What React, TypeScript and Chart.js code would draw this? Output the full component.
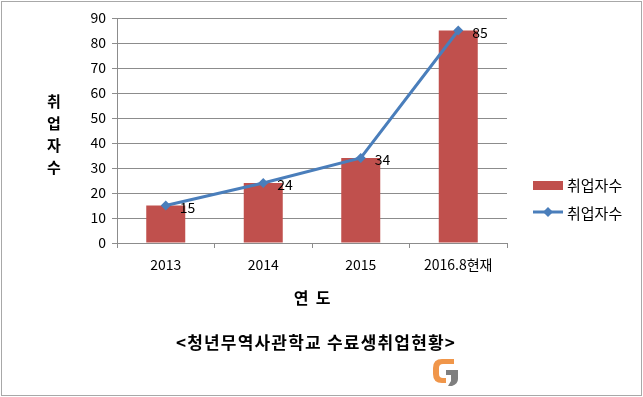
import React, { useEffect, useRef } from "react";
import { Chart, registerables } from "chart.js";

Chart.register(...registerables);

const categories = ["2013", "2014", "2015", "2016.8현재"];
const barValues = [15, 24, 34, 85];
const lineValues = [15, 24, 34, 85];
const seriesName = "취업자수";
const yTitleChars = ["취", "업", "자", "수"];
const xTitle = "연  도";
const subtitle = "<청년무역사관학교 수료생취업현황>";

const FONT = "'Noto Sans CJK KR', 'Malgun Gothic', sans-serif";
const BAR_COLOR = "#C0504D";
const LINE_COLOR = "#4A7EBB";

const decorPlugin = {
  id: "decor",
  afterDraw(chart: any) {
    const ctx = chart.ctx as CanvasRenderingContext2D;
    ctx.save();
    // border
    ctx.strokeStyle = "#a8a8a8";
    ctx.lineWidth = 1;
    ctx.strokeRect(1.5, 1.5, 640, 394);

    // data labels
    const meta = chart.getDatasetMeta(1);
    ctx.fillStyle = "#000";
    ctx.font = `14px ${FONT}`;
    ctx.textAlign = "left";
    ctx.textBaseline = "middle";
    meta.data.forEach((pt: any, i: number) => {
      ctx.fillText(String(lineValues[i]), pt.x + 14, pt.y + 2);
    });

    // y title
    ctx.font = `bold 15px ${FONT}`;
    ctx.textAlign = "center";
    yTitleChars.forEach((c, i) => {
      ctx.fillText(c, 54, 101 + i * 22);
    });

    // x title
    ctx.font = `bold 16px ${FONT}`;
    ctx.fillText(xTitle, 312, 298);

    // subtitle
    ctx.font = `bold 17px ${FONT}`;
    (ctx as any).letterSpacing = "1.2px";
    ctx.fillText(subtitle, 316, 343);
    (ctx as any).letterSpacing = "0px";

    // legend
    ctx.font = `15px ${FONT}`;
    ctx.textAlign = "left";
    ctx.fillStyle = BAR_COLOR;
    ctx.fillRect(533, 181, 30, 9);
    ctx.fillStyle = "#000";
    ctx.fillText(seriesName, 567, 185);
    ctx.strokeStyle = LINE_COLOR;
    ctx.lineWidth = 3;
    ctx.beginPath();
    ctx.moveTo(533, 212);
    ctx.lineTo(563, 212);
    ctx.stroke();
    ctx.fillStyle = LINE_COLOR;
    ctx.beginPath();
    ctx.moveTo(548, 207);
    ctx.lineTo(553, 212);
    ctx.lineTo(548, 217);
    ctx.lineTo(543, 212);
    ctx.closePath();
    ctx.fill();
    ctx.fillStyle = "#000";
    ctx.fillText(seriesName, 567, 213);

    // G logo
    ctx.fillStyle = "#F0964A";
    ctx.beginPath();
    ctx.moveTo(454, 359);
    ctx.lineTo(442, 359);
    ctx.quadraticCurveTo(433, 359, 433, 368);
    ctx.lineTo(433, 374);
    ctx.quadraticCurveTo(433, 383, 442, 383);
    ctx.lineTo(446, 383);
    ctx.lineTo(446, 378);
    ctx.lineTo(443, 378);
    ctx.quadraticCurveTo(439, 378, 439, 374);
    ctx.lineTo(439, 368);
    ctx.quadraticCurveTo(439, 364, 443, 364);
    ctx.lineTo(454, 364);
    ctx.closePath();
    ctx.fill();
    ctx.fillStyle = "#7f7f7f";
    ctx.beginPath();
    ctx.moveTo(446, 370);
    ctx.lineTo(458, 370);
    ctx.lineTo(458, 379);
    ctx.quadraticCurveTo(458, 384, 452, 386);
    ctx.lineTo(448, 386);
    ctx.lineTo(451, 381);
    ctx.lineTo(451, 375);
    ctx.lineTo(446, 375);
    ctx.closePath();
    ctx.fill();
    ctx.restore();
  },
};

export default function App() {
  const ref = useRef<HTMLCanvasElement>(null);
  useEffect(() => {
    document.body.style.margin = "0";
    const chart = new Chart(ref.current as HTMLCanvasElement, {
      data: {
        labels: categories,
        datasets: [
          {
            type: "line",
            label: seriesName,
            data: lineValues,
            borderColor: LINE_COLOR,
            backgroundColor: LINE_COLOR,
            borderWidth: 3,
            pointStyle: "rectRot",
            pointRadius: 5,
            pointBackgroundColor: LINE_COLOR,
            pointBorderWidth: 0,
            tension: 0,
            order: 0,
          } as any,
          {
            type: "bar",
            label: seriesName,
            data: barValues,
            backgroundColor: BAR_COLOR,
            categoryPercentage: 1,
            barPercentage: 0.4,
            order: 1,
          } as any,
        ],
      },
      options: {
        animation: false,
        responsive: false,
        maintainAspectRatio: false,
        layout: { padding: { left: 0, right: 136, top: 18, bottom: 0 } },
        plugins: { legend: { display: false }, tooltip: { enabled: false } },
        scales: {
          x: {
            offset: true,
            afterFit: (s: any) => {
              s.height = 154;
            },
            grid: {
              offset: true,
              drawOnChartArea: false,
              drawTicks: true,
              tickLength: 5,
              color: "#8c8c8c",
            },
            border: { color: "#8c8c8c" },
            ticks: {
              color: "#000",
              padding: 8,
              font: { family: FONT, size: 14 },
            },
          },
          y: {
            min: 0,
            max: 90,
            afterFit: (s: any) => {
              s.width = 117;
            },
            grid: { color: "#8c8c8c", tickLength: 5 },
            border: { color: "#8c8c8c" },
            ticks: {
              stepSize: 10,
              color: "#000",
              padding: 6,
              font: { family: FONT, size: 14 },
            },
          },
        },
      },
      plugins: [decorPlugin],
    } as any);
    return () => chart.destroy();
  }, []);
  return <canvas ref={ref} width={643} height={397} style={{ display: "block" }} />;
}
